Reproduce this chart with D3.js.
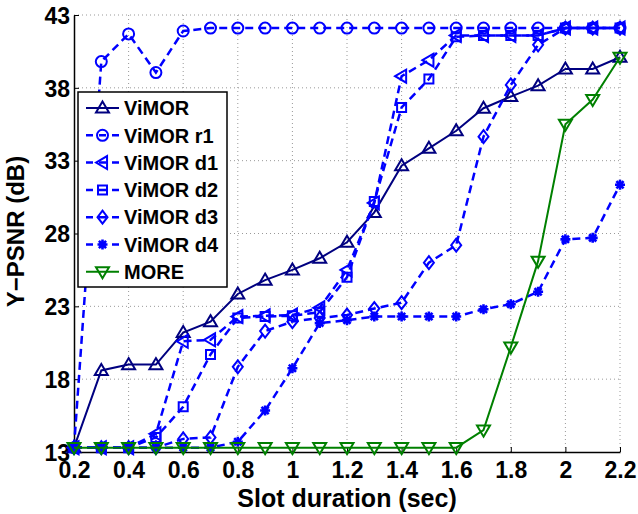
<!DOCTYPE html>
<html>
<head>
<meta charset="utf-8">
<script src="https://cdn.jsdelivr.net/npm/d3@7"></script>
<style>
  body { margin: 0; background: #fff; }
  text { font-family: "Liberation Sans", Arial, Helvetica, sans-serif; font-weight: bold; }
</style>
</head>
<body>
<div id="chart"></div>
<script>
// slot durations (sec)
var slots = [0.2, 0.3, 0.4, 0.5, 0.6, 0.7, 0.8, 0.9, 1.0, 1.1, 1.2, 1.3, 1.4, 1.5, 1.6, 1.7, 1.8, 1.9, 2.0, 2.1, 2.2];

// Y-PSNR (dB) per series
var vimor  = [13.3, 18.6, 19.0, 19.0, 21.2, 21.95, 23.85, 24.8, 25.5, 26.3, 27.4, 29.45, 32.65, 33.85, 35.05, 36.6, 37.4, 38.15, 39.3, 39.3, 40.1];
var vimorR1 = [13.3, 39.8, 41.7, 39.05, 41.9, 42.1, 42.1, 42.1, 42.1, 42.1, 42.1, 42.1, 42.1, 42.1, 42.1, 42.1, 42.1, 42.1, 42.1, 42.1, 42.1];
var vimorD1 = [13.3, 13.3, 13.3, 14.25, 20.6, 20.7, 22.3, 22.35, 22.4, 22.9, 25.5, 30.1, 38.8, 39.9, 41.6, 41.6, 41.6, 41.6, 42.1, 42.1, 42.1];
var vimorD2 = [13.3, 13.3, 13.3, 14.0, 16.1, 19.7, 22.2, 22.3, 22.35, 22.6, 25.0, 30.2, 36.65, 38.6, 41.5, 41.6, 41.6, 41.6, 42.1, 42.1, 42.1];
var vimorD3 = [13.3, 13.3, 13.3, 13.3, 13.9, 14.0, 18.85, 21.3, 21.95, 22.2, 22.4, 22.85, 23.25, 26.0, 27.2, 34.65, 38.2, 40.95, 42.1, 42.1, 42.1];
var vimorD4 = [13.3, 13.3, 13.3, 13.3, 13.3, 13.3, 13.7, 15.85, 18.75, 21.85, 22.05, 22.3, 22.3, 22.3, 22.3, 22.8, 23.15, 24.0, 27.6, 27.7, 31.35];
var more   = [13.3, 13.3, 13.3, 13.3, 13.3, 13.3, 13.3, 13.3, 13.3, 13.3, 13.3, 13.3, 13.3, 13.3, 13.3, 14.5, 20.2, 26.1, 35.5, 37.2, 40.1];

var xTicks = [0.2, 0.4, 0.6, 0.8, 1, 1.2, 1.4, 1.6, 1.8, 2, 2.2];
var yTicks = [13, 18, 23, 28, 33, 38, 43];

var seriesNames = ["ViMOR", "ViMOR r1", "ViMOR d1", "ViMOR d2", "ViMOR d3", "ViMOR d4", "MORE"];
var seriesValues = [vimor, vimorR1, vimorD1, vimorD2, vimorD3, vimorD4, more];

var styles = [
  { color: "#000080", dash: null, marker: "triUp" },
  { color: "#0000ff", dash: "8,5", marker: "circle" },
  { color: "#0000ff", dash: "8,5", marker: "triLeft" },
  { color: "#0000ff", dash: "8,5", marker: "square" },
  { color: "#0000ff", dash: "8,5", marker: "diamond" },
  { color: "#0000ff", dash: "8,5", marker: "star" },
  { color: "#008000", dash: null, marker: "triDown" }
];

var svgWidth = 638, svgHeight = 514;
var margin = { top: 15, right: 18, bottom: 62, left: 74 };
var width = svgWidth - margin.left - margin.right;
var height = svgHeight - margin.top - margin.bottom;

var svg = d3.select("#chart").append("svg")
  .attr("width", svgWidth)
  .attr("height", svgHeight);

svg.append("rect").attr("width", svgWidth).attr("height", svgHeight).attr("fill", "#fff");

var chartGroup = svg.append("g")
  .attr("transform", `translate(${margin.left}, ${margin.top})`);

var x = d3.scaleLinear().domain([0.2, 2.2]).range([0, width]);
var y = d3.scaleLinear().domain([13, 43]).range([height, 0]);

// grid
chartGroup.append("g").selectAll("line")
  .data(xTicks.slice(1))
  .enter().append("line")
  .attr("x1", d => x(d)).attr("x2", d => x(d))
  .attr("y1", 0).attr("y2", height)
  .attr("stroke", "#999").attr("stroke-width", 1).attr("stroke-dasharray", "1,3");

chartGroup.append("g").selectAll("line")
  .data(yTicks.slice(1))
  .enter().append("line")
  .attr("x1", 0).attr("x2", width)
  .attr("y1", d => y(d)).attr("y2", d => y(d))
  .attr("stroke", "#999").attr("stroke-width", 1).attr("stroke-dasharray", "1,3");

// axes
var bottomAxis = d3.axisBottom(x).tickValues(xTicks).tickSizeInner(-5).tickSizeOuter(0)
  .tickPadding(10).tickFormat(d3.format("~g"));
var leftAxis = d3.axisLeft(y).tickValues(yTicks).tickSizeInner(-5).tickSizeOuter(0)
  .tickPadding(4).tickFormat(d3.format("d"));

var gx = chartGroup.append("g")
  .attr("transform", `translate(0, ${height})`)
  .call(bottomAxis);
var gy = chartGroup.append("g").call(leftAxis);

[gx, gy].forEach(g => {
  g.selectAll("path").attr("stroke", "#000").attr("stroke-width", 1.5);
  g.selectAll("line").attr("stroke", "#000");
  g.selectAll("text").attr("fill", "#000").style("font-size", "23px");
});
gy.selectAll("text").attr("dy", "0.36em");

// marker shapes
function marker(sel, kind, color) {
  var s = 6.5;
  var p;
  if (kind === "circle") {
    return sel.append("circle").attr("r", 5.5).attr("fill", "none")
      .attr("stroke", color).attr("stroke-width", 2);
  }
  if (kind === "triUp") p = `M0,${-s}L${s},${s * 0.7}L${-s},${s * 0.7}Z`;
  if (kind === "triDown") p = `M0,${s}L${s},${-s * 0.7}L${-s},${-s * 0.7}Z`;
  if (kind === "triLeft") p = `M${-s},0L${s * 0.7},${-s}L${s * 0.7},${s}Z`;
  if (kind === "square") p = "M-4.5,-4.5H4.5V4.5H-4.5Z";
  if (kind === "diamond") p = "M0,-6.5L5,0L0,6.5L-5,0Z";
  if (kind === "star") {
    p = "M0,-5V5M-5,0H5M-3.6,-3.6L3.6,3.6M-3.6,3.6L3.6,-3.6";
    return sel.append("path").attr("d", p).attr("fill", "none")
      .attr("stroke", color).attr("stroke-width", 2.6);
  }
  return sel.append("path").attr("d", p).attr("fill", "none")
    .attr("stroke", color).attr("stroke-width", 2);
}

var line = d3.line().x(d => x(d[0])).y(d => y(d[1]));

seriesValues.forEach((vals, i) => {
  var st = styles[i];
  var pts = slots.map((s, j) => [s, vals[j]]);
  var g = chartGroup.append("g");
  g.append("path")
    .datum(pts)
    .attr("d", line)
    .attr("fill", "none")
    .attr("stroke", st.color)
    .attr("stroke-width", st.dash ? 2.5 : 2)
    .attr("stroke-dasharray", st.dash);
  pts.forEach(pt => {
    var m = g.append("g").attr("transform", `translate(${x(pt[0])}, ${y(pt[1])})`);
    marker(m, st.marker, st.color);
  });
});

// legend
var legend = chartGroup.append("g").attr("transform", "translate(4, 77)");
legend.append("rect")
  .attr("width", 149).attr("height", 195)
  .attr("fill", "#fff").attr("stroke", "#000").attr("stroke-width", 1.5);

seriesNames.forEach((name, i) => {
  var st = styles[i];
  var row = legend.append("g").attr("transform", `translate(0, ${16 + i * 27.3})`);
  row.append("line")
    .attr("x1", 8).attr("x2", 41).attr("y1", 0).attr("y2", 0)
    .attr("stroke", st.color)
    .attr("stroke-width", st.dash ? 2.5 : 2)
    .attr("stroke-dasharray", st.dash ? "7,6" : null);
  var m = row.append("g").attr("transform", "translate(24.5, 0)");
  marker(m, st.marker, st.color);
  row.append("text")
    .attr("x", 46).attr("y", 0).attr("dy", "0.36em")
    .style("font-size", "20px")
    .text(name);
});

// axis titles
chartGroup.append("text")
  .attr("text-anchor", "middle")
  .attr("x", width / 2).attr("y", height + 55)
  .style("font-size", "25px")
  .text("Slot duration (sec)");

chartGroup.append("text")
  .attr("text-anchor", "middle")
  .attr("transform", "rotate(-90)")
  .attr("x", -height / 2 + 2).attr("y", -50)
  .style("font-size", "24px")
  .text("Y\u2212PSNR (dB)");
</script>
</body>
</html>
